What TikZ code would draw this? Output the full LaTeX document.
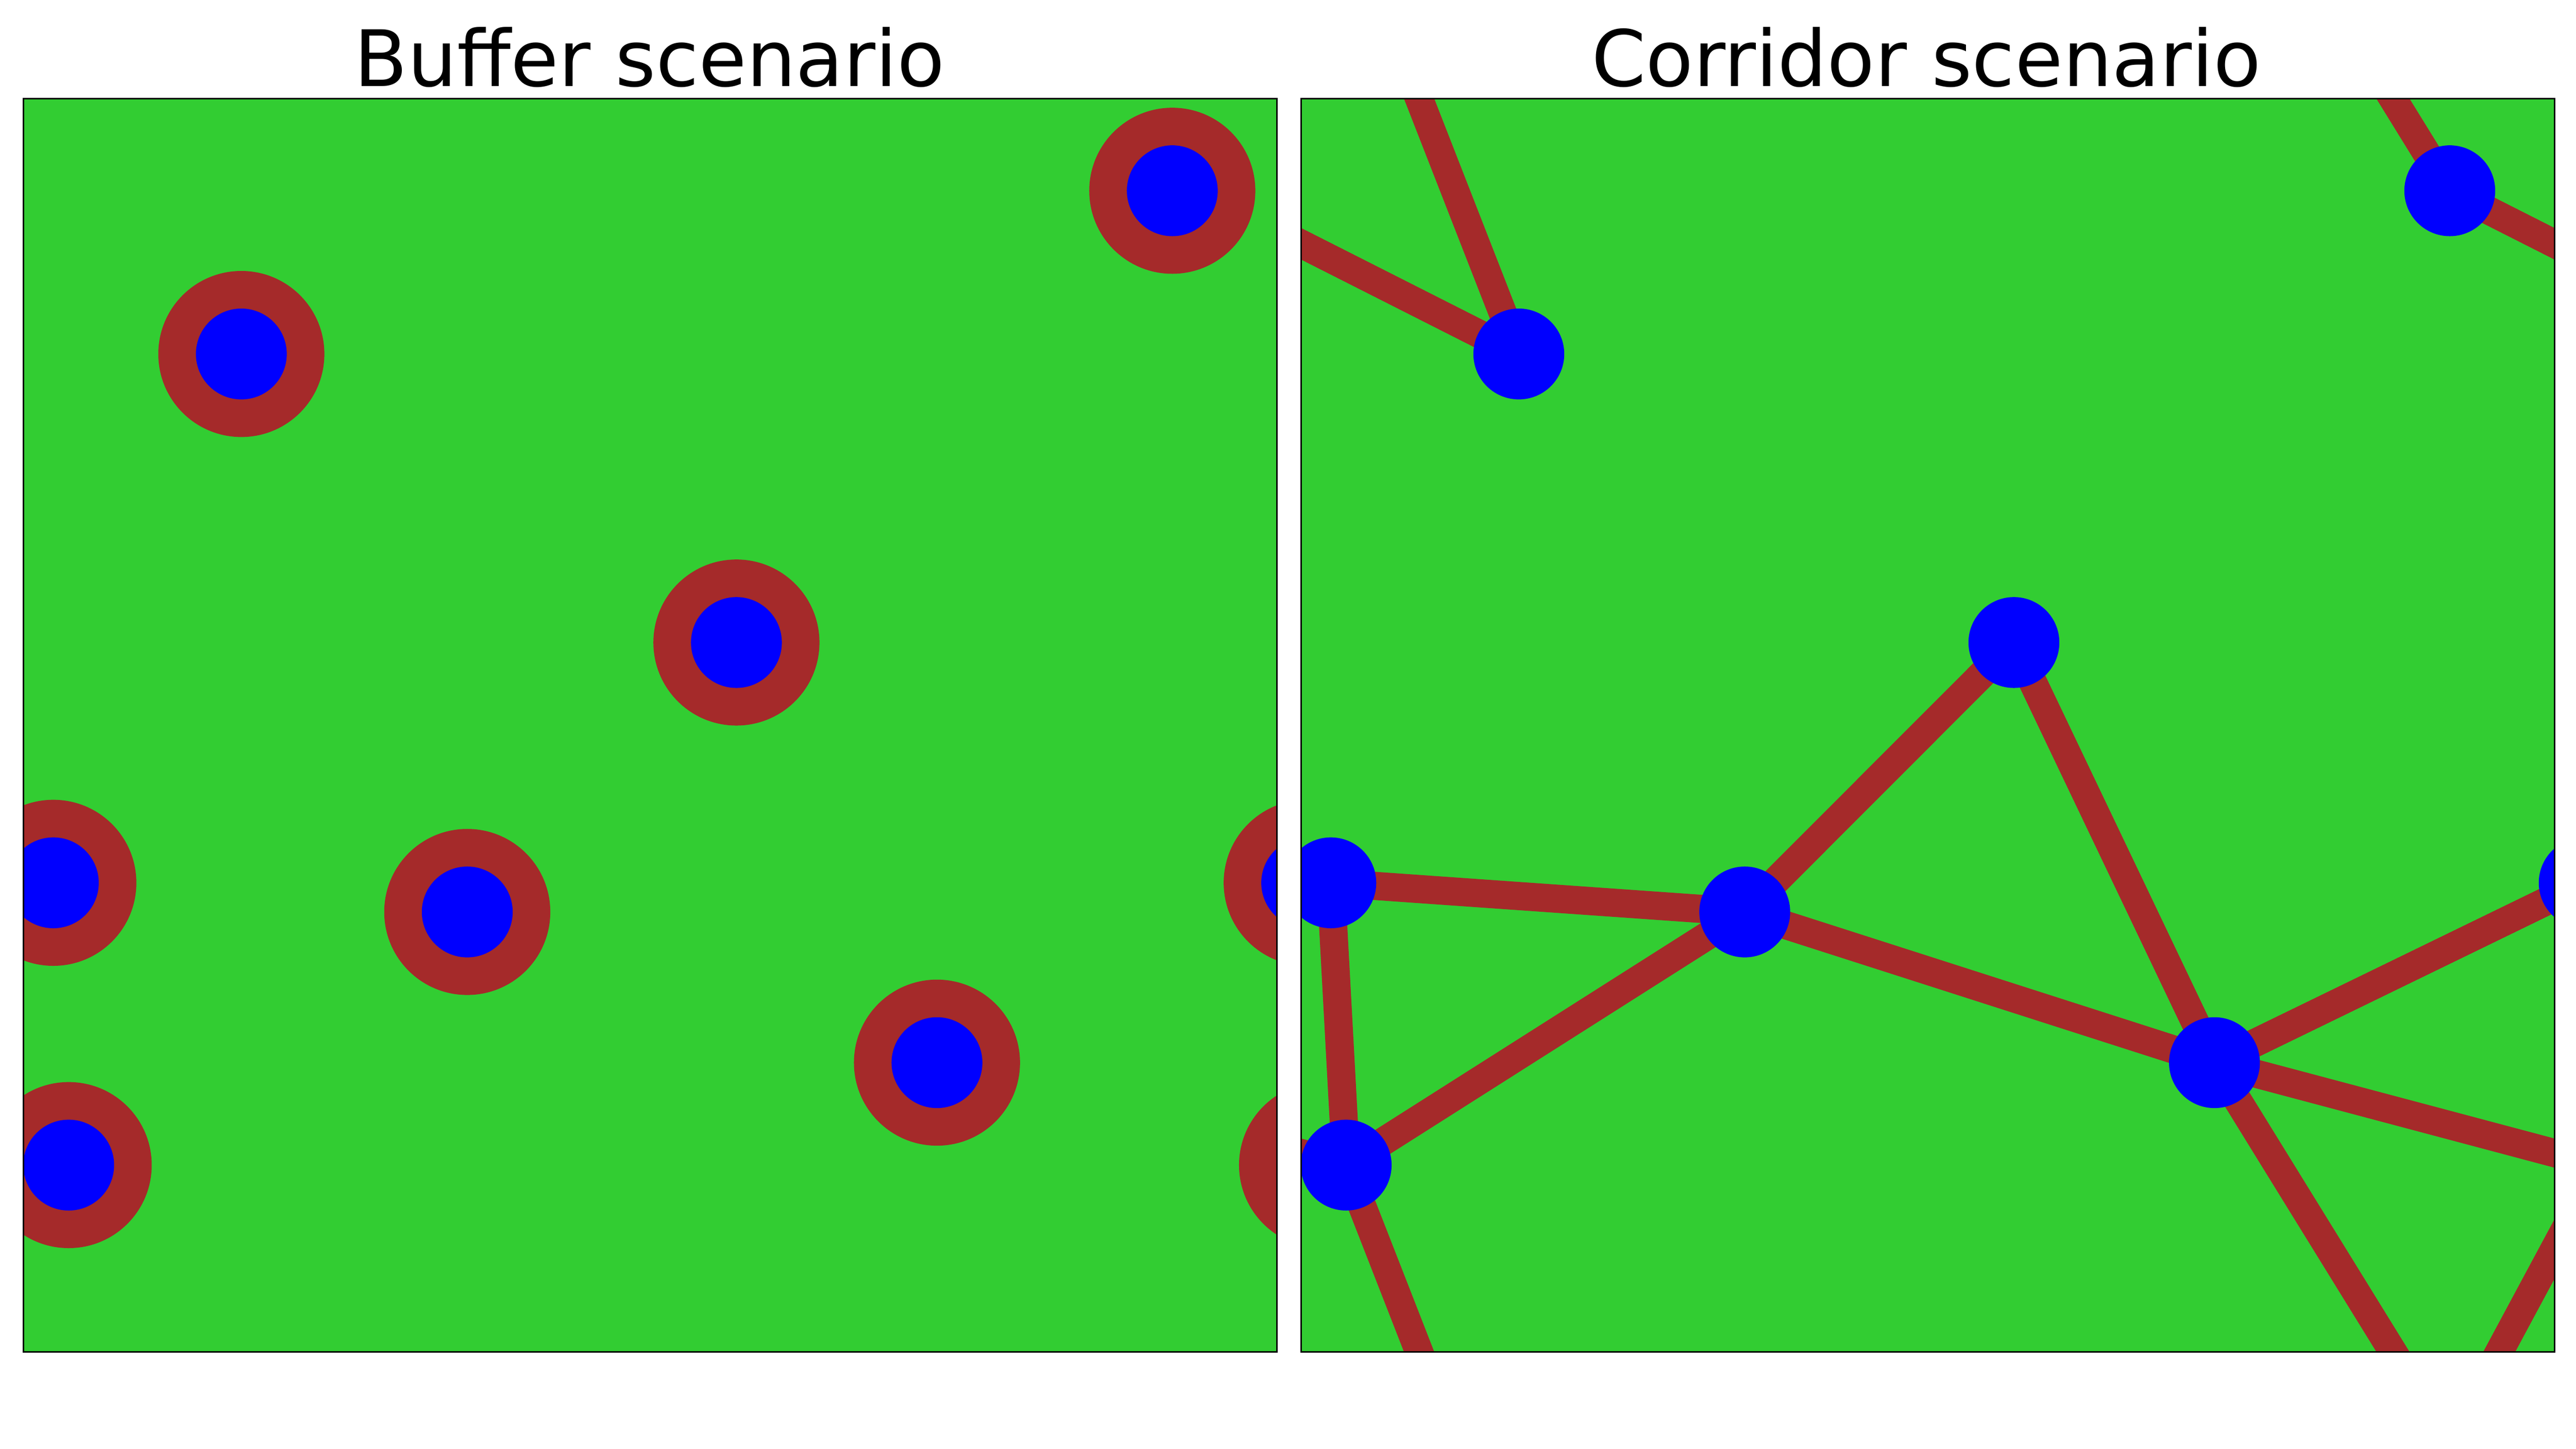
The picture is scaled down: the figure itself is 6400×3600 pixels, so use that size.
\documentclass[tikz,border=0pt]{standalone}
\usepackage{fontspec}
\setmainfont{DejaVu Sans}
\usepackage{color}
\usepackage{tikz}

\definecolor{grass}{RGB}{50,205,50}
\definecolor{buffer}{RGB}{165,42,42}
\definecolor{habitat}{RGB}{0,0,255}

\tikzset{
  panel/.style={draw=black, line width=1.1pt},
  heading/.style={anchor=base, inner sep=0pt, font=\fontsize{55}{66}\selectfont},
  corridor/.style={draw=buffer, line width=0.7cm},
  grid/.style={x=0.0778cm, y=-0.0778cm}
}

\begin{document}
\begin{tikzpicture}[x=0.01cm, y=-0.01cm]
  \useasboundingbox (0,0) rectangle (6400,3600);

  \node[heading] (buffertitle) at (1614,214) {Buffer scenario};
  \node[heading] (corridortitle) at (4786,214) {Corridor scenario};

  % buffer scenario
  \begin{scope}[shift={(0.585cm,-2.45cm)}, grid]
    \foreach \n/\u/\v in {A/69.5/81.5, B/366.6/29.4, C/227.5/173.6, D/9.5/250.3,
        E/141.6/259.6, F/291.5/307.7, G/14.4/340.4, Dr/409.5/250.3, Gr/414.4/340.4}
      \coordinate (b\n) at (\u,\v);
    \begin{scope}
      \clip (0,0) rectangle (400,400);
      \fill[grass] (0,0) rectangle (400,400);
      \foreach \n in {A,B,C,D,E,F,G,Dr,Gr} {
        \fill[buffer] (b\n) circle (26.5);
        \fill[habitat] (b\n) circle (14.5);
      }
    \end{scope}
    \draw[panel] (0,0) rectangle (400,400);
  \end{scope}

  % corridor scenario (copies of patches across the wrapped edges)
  \begin{scope}[shift={(32.305cm,-2.45cm)}, grid]
    \foreach \n/\u/\v in {A/69.5/81.5, B/366.6/29.4, C/227.5/173.6, D/9.5/250.3,
        E/141.6/259.6, F/291.5/307.7, G/14.4/340.4,
        Ar/469.5/81.5, Ad/69.5/481.5, Bl/-33.4/29.4, Bd/366.6/429.4,
        Dr/409.5/250.3, Fu/291.5/-92.3, Fl/-108.5/307.7, Gu/14.4/-59.6, Gr/414.4/340.4}
      \coordinate (c\n) at (\u,\v);
    \begin{scope}
      \clip (0,0) rectangle (400,400);
      \fill[grass] (0,0) rectangle (400,400);
      \foreach \a/\b in {A/Gu, A/Bl, B/Fu, B/Ar, C/E, C/F, D/E, D/G, E/G, E/F,
          F/Dr, F/Gr, F/Bd, G/Ad, G/Fl, Gr/Bd}
        \draw[corridor] (c\a) -- (c\b);
      \foreach \n in {A,B,C,D,E,F,G,Dr,Gr}
        \fill[habitat] (c\n) circle (14.5);
    \end{scope}
    \draw[panel] (0,0) rectangle (400,400);
  \end{scope}
\end{tikzpicture}
\end{document}
